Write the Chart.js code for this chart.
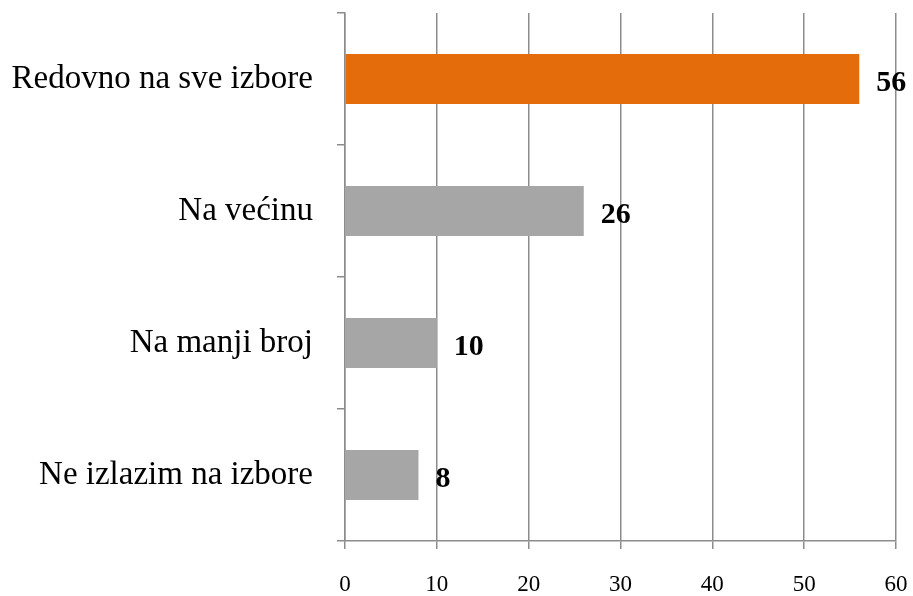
<!DOCTYPE html>
<html>
<head>
<meta charset="utf-8">
<script src="https://cdn.jsdelivr.net/npm/chart.js@4"></script>
<style>
    html, body { margin: 0; padding: 0; background: #fff; }
    #wrap { width: 913px; height: 596px; }
</style>
</head>
<body>
<div id="wrap"><canvas id="chart" width="913" height="596"></canvas></div>
<script>
let categories = ["Redovno na sve izbore", "Na većinu", "Na manji broj", "Ne izlazim na izbore"];
let values = [56, 26, 10, 8];
let barColors = ["#E46C0A", "#A6A6A6", "#A6A6A6", "#A6A6A6"];
let xTicks = [0, 10, 20, 30, 40, 50, 60];

const serif = "'Liberation Serif', 'DejaVu Serif', serif";
const axisGray = "#8c8c8c";

// value labels at the end of each bar
const valueLabels = {
    id: "valueLabels",
    afterDatasetsDraw(chart) {
        let ctx = chart.ctx;
        let meta = chart.getDatasetMeta(0);
        ctx.save();
        ctx.font = "bold 30px " + serif;
        ctx.fillStyle = "#000";
        ctx.textAlign = "left";
        ctx.textBaseline = "middle";
        meta.data.forEach((bar, i) => {
            ctx.fillText(values[i], bar.x + 17, bar.y + 4);
        });
        ctx.restore();
    }
};

new Chart(document.getElementById("chart"), {
    type: "bar",
    data: {
        labels: categories,
        datasets: [{
            data: values,
            backgroundColor: barColors,
            borderWidth: 0,
            categoryPercentage: 0.38,
            barPercentage: 1
        }]
    },
    options: {
        indexAxis: "y",
        responsive: false,
        animation: false,
        layout: { padding: { top: 13, right: 17, left: 0, bottom: 0 } },
        plugins: {
            legend: { display: false },
            tooltip: { enabled: false }
        },
        scales: {
            x: {
                min: 0,
                max: 60,
                afterBuildTicks(scale) {
                    scale.ticks = xTicks.map(v => ({ value: v }));
                },
                afterFit(scale) {
                    scale.height = 55;
                    scale.paddingLeft = 0;
                    scale.paddingRight = 0;
                },
                grid: {
                    color: axisGray,
                    lineWidth: 1.5,
                    tickLength: 8,
                    drawOnChartArea: true,
                    z: -1
                },
                border: { color: axisGray, width: 1.5 },
                ticks: {
                    color: "#000",
                    font: { family: serif, size: 23 },
                    padding: 22,
                    maxRotation: 0
                }
            },
            y: {
                offset: true,
                afterFit(scale) {
                    scale.width = 345;
                    scale.paddingTop = 0;
                    scale.paddingBottom = 0;
                },
                grid: {
                    offset: true,
                    color: axisGray,
                    lineWidth: 1.5,
                    tickLength: 8,
                    drawOnChartArea: false
                },
                border: { color: axisGray, width: 1.5 },
                ticks: {
                    color: "#000",
                    font: { family: serif, size: 33 },
                    padding: 24
                }
            }
        }
    },
    plugins: [valueLabels]
});
</script>
</body>
</html>
